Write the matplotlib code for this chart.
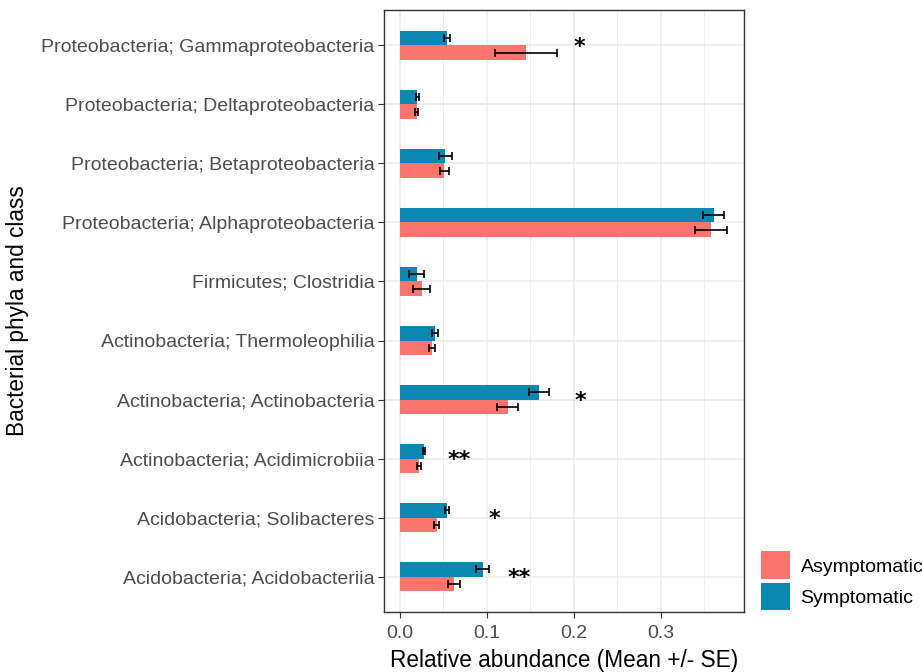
import matplotlib
matplotlib.use("Agg")
import matplotlib.pyplot as plt
from matplotlib.patches import Patch
import numpy as np

plt.rcParams['font.family'] = ['Liberation Sans', 'DejaVu Sans']

taxa = [
    "Acidobacteria; Acidobacteriia",
    "Acidobacteria; Solibacteres",
    "Actinobacteria; Acidimicrobiia",
    "Actinobacteria; Actinobacteria",
    "Actinobacteria; Thermoleophilia",
    "Firmicutes; Clostridia",
    "Proteobacteria; Alphaproteobacteria",
    "Proteobacteria; Betaproteobacteria",
    "Proteobacteria; Deltaproteobacteria",
    "Proteobacteria; Gammaproteobacteria",
]

asym_mean = [0.062, 0.042, 0.022, 0.124, 0.037, 0.025, 0.358, 0.051, 0.019, 0.145]
asym_se   = [0.007, 0.003, 0.0022, 0.012, 0.0035, 0.010, 0.018, 0.0055, 0.0015, 0.036]
sym_mean  = [0.095, 0.054, 0.028, 0.160, 0.040, 0.019, 0.361, 0.052, 0.020, 0.054]
sym_se    = [0.007, 0.0025, 0.0012, 0.0115, 0.0035, 0.0085, 0.0125, 0.0075, 0.0015, 0.0035]

sig_labels = ["**", "*", "**", "*", "", "", "", "", "", "*"]
sig_x      = [0.137, 0.109, 0.068, 0.208, 0, 0, 0, 0, 0, 0.206]

groups = ["Asymptomatic", "Symptomatic"]
colors = ["#F8766D", "#0A88B1"]

W, H = 922, 672
fig = plt.figure(figsize=(W / 100, H / 100), dpi=100)
ax = fig.add_axes([384 / W, (H - 612) / H, (744 - 384) / W, (612 - 10) / H])

y = np.arange(len(taxa))
bh = 0.25
ax.barh(y - bh / 2, asym_mean, height=bh, color=colors[0], zorder=2)
ax.barh(y + bh / 2, sym_mean, height=bh, color=colors[1], zorder=2)
ax.errorbar(asym_mean, y - bh / 2, xerr=asym_se, fmt='none', ecolor='black',
            elinewidth=1.2, capsize=2.6, capthick=1.2, zorder=3)
ax.errorbar(sym_mean, y + bh / 2, xerr=sym_se, fmt='none', ecolor='black',
            elinewidth=1.2, capsize=2.6, capthick=1.2, zorder=3)

for yi, lab, xs in zip(y, sig_labels, sig_x):
    if lab:
        ax.text(xs, yi - 0.02, lab, ha='center', va='center', fontsize=16,
                fontweight='bold', color='black', family='DejaVu Sans', zorder=4)

ax.set_xlim(-0.0185, 0.396)
ax.set_ylim(-0.6, len(taxa) - 1 + 0.6)
ax.set_xticks([0.0, 0.1, 0.2, 0.3])
ax.set_xticklabels(["0.0", "0.1", "0.2", "0.3"])
ax.set_xticks([0.05, 0.15, 0.25, 0.35], minor=True)
ax.set_yticks(y)
ax.set_yticklabels(taxa)

ax.grid(True, which='major', color='#EBEBEB', linewidth=1.1, zorder=0)
ax.grid(True, which='minor', axis='x', color='#EBEBEB', linewidth=0.6, zorder=0)
ax.set_axisbelow(True)
ax.tick_params(axis='both', which='major', length=4.5, width=0.8, color='#333333',
               labelcolor='#4D4D4D', labelsize=14, pad=2.5)
ax.tick_params(axis='x', which='major', pad=5)
ax.tick_params(axis='x', which='minor', length=0)
for s in ax.spines.values():
    s.set_color('#333333')
    s.set_linewidth(1.0)

ax.set_xlabel("Relative abundance (Mean +/- SE)", fontsize=16.3, color='black', labelpad=5)
ax.set_ylabel("Bacterial phyla and class", fontsize=16.3, color='black', labelpad=9)

handles = [Patch(facecolor=colors[0], edgecolor='none'),
           Patch(facecolor=colors[1], edgecolor='none')]
fig.legend(handles, groups, loc='lower left', bbox_to_anchor=(747 / W, (H - 624) / H),
           frameon=False, fontsize=14, handlelength=1.5, handleheight=1.8,
           handletextpad=0.55, labelspacing=0.2, borderpad=0.2)

fig.savefig("out.png", dpi=100)
